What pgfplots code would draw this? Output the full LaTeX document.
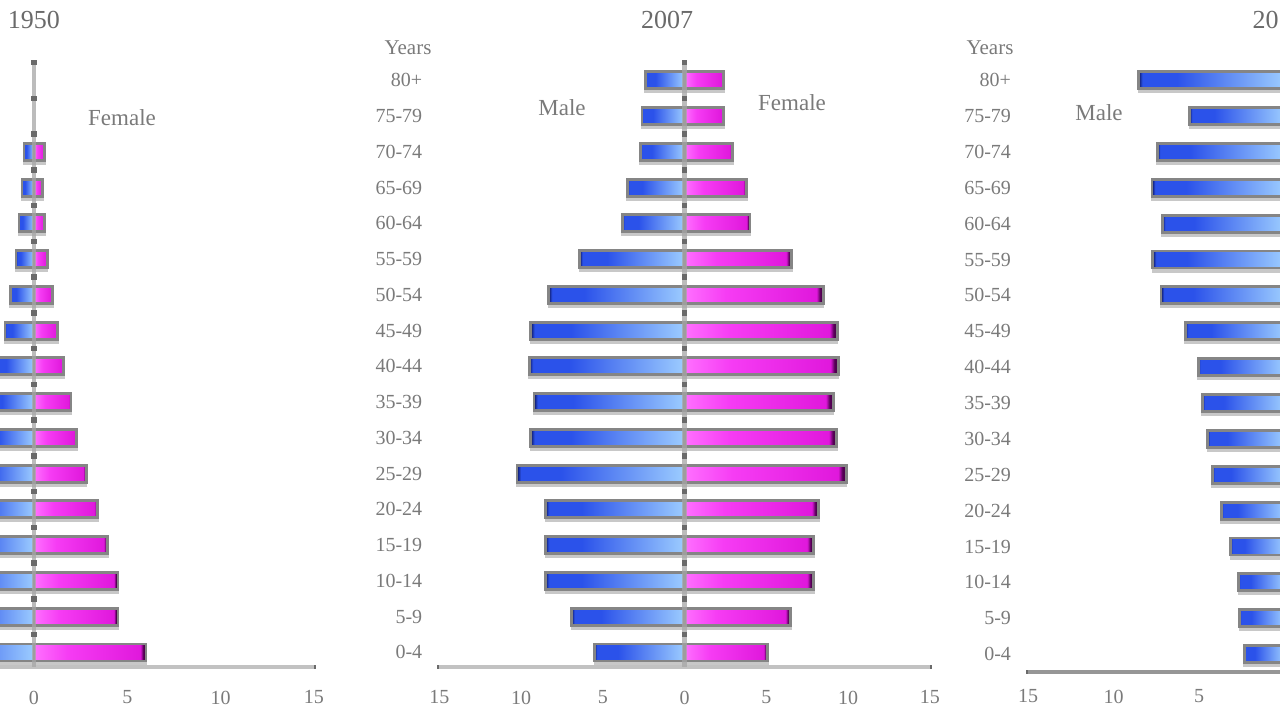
\documentclass[border=0pt]{standalone}
\usepackage{pgfplots}
\pgfplotsset{compat=1.18}
\usepackage{fontspec}
\setmainfont{Liberation Serif}
\definecolor{txt}{HTML}{7A7A7A}
\definecolor{ttl}{HTML}{6A6A6A}
\definecolor{axgray}{HTML}{C2C2C2}
\definecolor{axgrayR}{HTML}{969696}
\definecolor{vgray}{HTML}{A6A6A6}
\definecolor{tickdark}{HTML}{6A6A6A}
\definecolor{mnavy}{HTML}{0C1660}
\definecolor{mdark}{HTML}{2B52EA}
\definecolor{mlight}{HTML}{9CCCFF}
\definecolor{flight}{HTML}{FF70FF}
\definecolor{fmag}{HTML}{F63CF4}
\definecolor{fdark}{HTML}{E018DC}
\definecolor{fpurple}{HTML}{500050}
\definecolor{frame}{HTML}{858585}
\definecolor{shadow}{HTML}{C8C8C8}
\pgfdeclarehorizontalshading{maleshade}{100bp}{color(0bp)=(mnavy); color(25bp)=(mnavy); color(26.2bp)=(mdark); color(38bp)=(mdark); color(75bp)=(mlight); color(100bp)=(mlight)}
\pgfdeclarehorizontalshading{femaleshade}{100bp}{color(0bp)=(flight); color(25bp)=(flight); color(40bp)=(fmag); color(72.5bp)=(fdark); color(73.8bp)=(fpurple); color(75bp)=(fpurple); color(100bp)=(fpurple)}
\tikzset{vline/.style={vgray, line width=2.2pt, opacity=0.75}}
\pgfplotsset{
  pyr/.style={
    scale only axis, anchor=south west,
    xmin=-15, xmax=15, ymin=-0.4, ymax=16.55,
    axis x line=bottom, axis y line=left,
    y axis line style={draw=none},
    x axis line style={draw=axgray, line width=2pt, -},
    xtick={-15,-10,-5,0,5,10,15}, xticklabels={15,10,5,0,5,10,15},
    ytick={0,...,16},
    yticklabels={0-4,5-9,10-14,15-19,20-24,25-29,30-34,35-39,40-44,45-49,50-54,55-59,60-64,65-69,70-74,75-79,80+},
    ytick style={draw=none},
    xtick style={draw=tickdark, line width=2pt},
    major tick length=2pt, tick align=center,
    tick label style={font=\fontsize{10}{12}\selectfont, text=txt},
    xticklabel style={yshift=-7.5pt},
    yticklabel style={xshift=-4pt},
    /pgf/number format/assume math mode=true,
    clip=false,
  },
  shadowbar/.style={xbar, bar width=9pt, bar shift=-1.5pt, fill=shadow, draw=shadow, line width=1pt},
  malebar/.style={xbar, bar width=8.5pt, bar shift=0pt, shading=maleshade, draw=frame, line width=1.4pt},
  femalebar/.style={xbar, bar width=8.5pt, bar shift=0pt, shading=femaleshade, draw=frame, line width=1.4pt},
  vdots/.style={only marks, mark=square*, mark size=1.1pt, color=tickdark},
}
% one bar per \addplot, so that each bar gets its own gradient
\newcommand{\M}[2]{\addplot[malebar] coordinates {(#1,#2)};}
\newcommand{\F}[2]{\addplot[femalebar] coordinates {(#1,#2)};}
\begin{document}
\begin{tikzpicture}
\useasboundingbox (0,0) rectangle (640pt,360pt);
\clip (0,0) rectangle (640pt,360pt);

% ---------------- 1950 ----------------
\begin{axis}[pyr, at={(-123pt,26.65pt)}, width=280pt, height=303pt,
  xtick={0,5,10,15}, xticklabels={0,5,10,15}, yticklabels={}]
\addplot[shadowbar] coordinates {(-6.3,0) (-4.8,1) (-4.8,2) (-4.3,3) (-3.7,4) (-3.1,5) (-2.6,6) (-2.3,7) (-2.0,8) (-1.55,9) (-1.28,10) (-0.96,11) (-0.8,12) (-0.64,13) (-0.54,14)};
\addplot[shadowbar] coordinates {(6.0,0) (4.5,1) (4.5,2) (3.95,3) (3.42,4) (2.8,5) (2.28,6) (1.98,7) (1.6,8) (1.28,9) (1.0,10) (0.72,11) (0.58,12) (0.46,13) (0.58,14)};
\M{-6.3}{0} \M{-4.8}{1} \M{-4.8}{2} \M{-4.3}{3} \M{-3.7}{4} \M{-3.1}{5} \M{-2.6}{6} \M{-2.3}{7} \M{-2.0}{8} \M{-1.55}{9} \M{-1.28}{10} \M{-0.96}{11} \M{-0.8}{12} \M{-0.64}{13} \M{-0.54}{14}
\F{6.0}{0} \F{4.5}{1} \F{4.5}{2} \F{3.95}{3} \F{3.42}{4} \F{2.8}{5} \F{2.28}{6} \F{1.98}{7} \F{1.6}{8} \F{1.28}{9} \F{1.0}{10} \F{0.72}{11} \F{0.58}{12} \F{0.46}{13} \F{0.58}{14}
\draw[vline] (axis cs:0,-0.4) -- (axis cs:0,16.55);
\addplot[vdots] coordinates {(0,0.5) (0,1.5) (0,2.5) (0,3.5) (0,4.5) (0,5.5) (0,6.5) (0,7.5) (0,8.5) (0,9.5) (0,10.5) (0,11.5) (0,12.5) (0,13.5) (0,14.5) (0,15.5) (0,16.5)};
\end{axis}

% ---------------- 2007 ----------------
\begin{axis}[pyr, at={(219.625pt,26.65pt)}, width=245.25pt, height=303pt]
\addplot[shadowbar] coordinates {(-5.5,0) (-6.9,1) (-8.5,2) (-8.5,3) (-8.5,4) (-10.25,5) (-9.4,6) (-9.2,7) (-9.5,8) (-9.4,9) (-8.3,10) (-6.4,11) (-3.8,12) (-3.5,13) (-2.7,14) (-2.6,15) (-2.4,16)};
\addplot[shadowbar] coordinates {(5.1,0) (6.5,1) (7.9,2) (7.9,3) (8.2,4) (9.9,5) (9.3,6) (9.1,7) (9.4,8) (9.35,9) (8.5,10) (6.55,11) (4.0,12) (3.8,13) (2.95,14) (2.4,15) (2.4,16)};
\M{-5.5}{0} \M{-6.9}{1} \M{-8.5}{2} \M{-8.5}{3} \M{-8.5}{4} \M{-10.25}{5} \M{-9.4}{6} \M{-9.2}{7} \M{-9.5}{8} \M{-9.4}{9} \M{-8.3}{10} \M{-6.4}{11} \M{-3.8}{12} \M{-3.5}{13} \M{-2.7}{14} \M{-2.6}{15} \M{-2.4}{16}
\F{5.1}{0} \F{6.5}{1} \F{7.9}{2} \F{7.9}{3} \F{8.2}{4} \F{9.9}{5} \F{9.3}{6} \F{9.1}{7} \F{9.4}{8} \F{9.35}{9} \F{8.5}{10} \F{6.55}{11} \F{4.0}{12} \F{3.8}{13} \F{2.95}{14} \F{2.4}{15} \F{2.4}{16}
\draw[vline] (axis cs:0,-0.4) -- (axis cs:0,16.55);
\addplot[vdots] coordinates {(0,0.5) (0,1.5) (0,2.5) (0,3.5) (0,4.5) (0,5.5) (0,6.5) (0,7.5) (0,8.5) (0,9.5) (0,10.5) (0,11.5) (0,12.5) (0,13.5) (0,14.5) (0,15.5) (0,16.5)};
\end{axis}

% ---------------- 2050 ----------------
\begin{axis}[pyr, at={(514pt,24.15pt)}, width=256.5pt, height=305.65pt, ymin=-0.49, ymax=16.55,
  x axis line style={draw=axgrayR}, xtick={-15,-10,-5}, xticklabels={15,10,5}, xticklabel style={yshift=3pt}]
\addplot[shadowbar] coordinates {(-2.35,0) (-2.62,1) (-2.68,2) (-3.15,3) (-3.7,4) (-4.22,5) (-4.5,6) (-4.8,7) (-5.05,8) (-5.8,9) (-7.22,10) (-7.7,11) (-7.15,12) (-7.75,13) (-7.45,14) (-5.55,15) (-8.52,16)};
\M{-2.35}{0} \M{-2.62}{1} \M{-2.68}{2} \M{-3.15}{3} \M{-3.7}{4} \M{-4.22}{5} \M{-4.5}{6} \M{-4.8}{7} \M{-5.05}{8} \M{-5.8}{9} \M{-7.22}{10} \M{-7.7}{11} \M{-7.15}{12} \M{-7.75}{13} \M{-7.45}{14} \M{-5.55}{15} \M{-8.52}{16}
\end{axis}

% ---------------- texts ----------------
\begin{scope}[every node/.style={text=ttl, inner sep=0pt}]
\node[font=\fontsize{13}{15}\selectfont] at (17pt,350pt) {1950};
\node[font=\fontsize{13}{15}\selectfont] at (333.5pt,350pt) {2007};
\node[font=\fontsize{13}{15}\selectfont, anchor=east] at (639.5pt,350pt) {20};
\node[font=\fontsize{11.5}{13}\selectfont, text=txt] at (61pt,301pt) {Female};
\node[font=\fontsize{11.5}{13}\selectfont, text=txt] at (281pt,306pt) {Male};
\node[font=\fontsize{11.5}{13}\selectfont, text=txt] at (396pt,308.5pt) {Female};
\node[font=\fontsize{11.5}{13}\selectfont, text=txt] at (549.5pt,303.5pt) {Male};
\node[font=\fontsize{10.5}{12}\selectfont, text=txt] at (204pt,336pt) {Years};
\node[font=\fontsize{10.5}{12}\selectfont, text=txt] at (495pt,336pt) {Years};
\end{scope}
\end{tikzpicture}
\end{document}
